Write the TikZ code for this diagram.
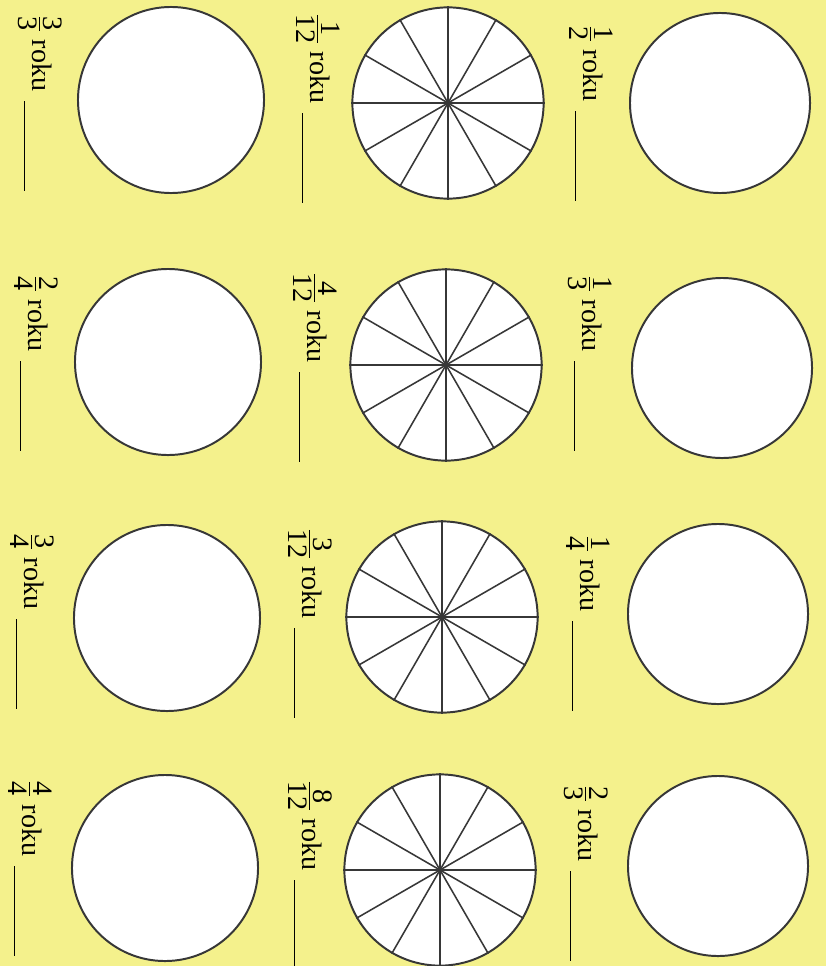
\documentclass[tikz,border=0pt]{standalone}
\usepackage{amsmath}
\usepackage{fontspec}
\setmainfont{Liberation Serif}
\definecolor{paper}{RGB}{244,241,140}
\definecolor{ink}{RGB}{55,55,55}
% fraction of a year with an answer line
\newcommand{\yearpart}[2]{$\genfrac{}{}{1.1pt}{1}{\mbox{#1}}{\mbox{#2}}$ roku\hspace{7pt}\rule[-6pt]{64pt}{0.9pt}}

\begin{document}
\begin{tikzpicture}[x=0.025cm,y=-0.025cm,
  disc/.style={circle,draw=ink,line width=1.4pt,fill=white,inner sep=0pt,minimum size=4.65cm},
  wheel/.style={disc,minimum size=4.78cm},
  spoke/.style={draw=ink,line width=1.1pt},
  yearlab/.style={rotate=-90,anchor=base west,inner sep=0pt,font=\fontsize{20}{24}\selectfont}]
\fill[paper] (0,0) rectangle (826,966);
\useasboundingbox (0,0) rectangle (826,966);
% left column: empty circles
\node[disc] (l1) at (171,100) {};
\node[disc] (l2) at (168,362) {};
\node[disc] (l3) at (167,618) {};
\node[disc] (l4) at (165,868) {};
\node[yearlab] (tl1) at (32,15) {\yearpart{3}{3}};
\node[yearlab] (tl2) at (28,275) {\yearpart{2}{4}};
\node[yearlab] (tl3) at (24,533) {\yearpart{3}{4}};
\node[yearlab] (tl4) at (22,780) {\yearpart{4}{4}};
% middle column: circles cut in twelve
\node[wheel] (w1) at (448,103) {};
\node[wheel] (w2) at (446,365) {};
\node[wheel] (w3) at (442,617) {};
\node[wheel] (w4) at (440,870) {};
\foreach \w in {w1,w2,w3,w4}
  \foreach \a in {0,30,...,330}
    \draw[spoke] (\w.center) -- (\w.\a);
\node[yearlab] (tw1) at (310,13) {\yearpart{1}{12}};
\node[yearlab] (tw2) at (307,272) {\yearpart{4}{12}};
\node[yearlab] (tw3) at (302,528) {\yearpart{3}{12}};
\node[yearlab] (tw4) at (302,780) {\yearpart{8}{12}};
% right column: empty circles
\node[disc,minimum size=4.5cm] (r1) at (720,103) {};
\node[disc,minimum size=4.5cm] (r2) at (722,368) {};
\node[disc,minimum size=4.5cm] (r3) at (718,614) {};
\node[disc,minimum size=4.5cm] (r4) at (718,866) {};
\node[yearlab] (tr1) at (583,25) {\yearpart{1}{2}};
\node[yearlab] (tr2) at (582,275) {\yearpart{1}{3}};
\node[yearlab] (tr3) at (580,535) {\yearpart{1}{4}};
\node[yearlab] (tr4) at (578,785) {\yearpart{2}{3}};
\end{tikzpicture}
\end{document}
